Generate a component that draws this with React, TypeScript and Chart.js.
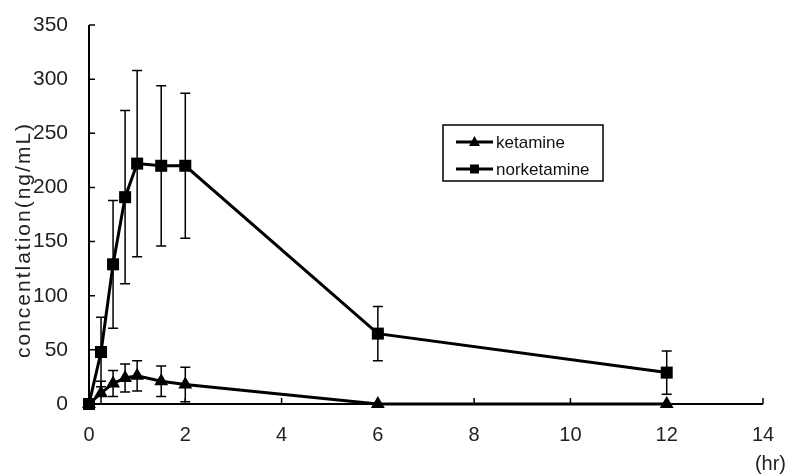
import React, { useEffect, useRef } from 'react';
import { Chart, registerables } from 'chart.js';

Chart.register(...registerables);

const times = [0, 0.25, 0.5, 0.75, 1, 1.5, 2, 6, 12];
const ketamine = [0, 10, 19, 24, 26, 21, 18, 0, 0];
const ketamineSD = [0, 11, 12, 13, 14, 14, 16, 0, 0];
const norketamine = [0, 48, 129, 191, 222, 220, 220, 65, 29];
const norketamineSD = [0, 32, 59, 80, 86, 74, 67, 25, 20];
const seriesNames = ['ketamine', 'norketamine'];
const xTicks = [0, 2, 4, 6, 8, 10, 12, 14];
const yTicks = [0, 50, 100, 150, 200, 250, 300, 350];
const yTitle = 'concentlation(ng/mL)';
const xTitle = '(hr)';

const FONT = '"Liberation Sans", Arial, sans-serif';

export default function App() {
  const ref = useRef<HTMLCanvasElement>(null);
  useEffect(() => {
    document.body.style.margin = '0';
    const canvas = ref.current!;
    const sds = [ketamineSD, norketamineSD];

    const plugin = {
      id: 'custom',
      beforeDatasetsDraw(chart: any) {
        const ctx = chart.ctx;
        const xs = chart.scales.x;
        const ys = chart.scales.y;
        const a = chart.chartArea;
        ctx.save();
        ctx.strokeStyle = '#000';
        // axes
        ctx.lineWidth = 2;
        ctx.beginPath();
        ctx.moveTo(a.left, a.top);
        ctx.lineTo(a.left, a.bottom);
        ctx.lineTo(a.right, a.bottom);
        ctx.stroke();
        ctx.lineWidth = 1.5;
        ctx.beginPath();
        xTicks.forEach((t) => {
          const px = xs.getPixelForValue(t);
          ctx.moveTo(px, a.bottom);
          ctx.lineTo(px, a.bottom - 6);
        });
        yTicks.forEach((t) => {
          const py = ys.getPixelForValue(t);
          ctx.moveTo(a.left, py);
          ctx.lineTo(a.left + 6, py);
        });
        ctx.stroke();
        // error bars
        ctx.lineWidth = 1.5;
        chart.data.datasets.forEach((ds: any, i: number) => {
          const sd = sds[i];
          ds.data.forEach((p: any, j: number) => {
            if (!sd[j]) return;
            const px = xs.getPixelForValue(p.x);
            const top = ys.getPixelForValue(p.y + sd[j]);
            const bot = ys.getPixelForValue(Math.max(0, p.y - sd[j]));
            ctx.beginPath();
            ctx.moveTo(px, top);
            ctx.lineTo(px, bot);
            ctx.moveTo(px - 5, top);
            ctx.lineTo(px + 5, top);
            ctx.moveTo(px - 5, bot);
            ctx.lineTo(px + 5, bot);
            ctx.stroke();
          });
        });
        ctx.restore();
      },
      afterDraw(chart: any) {
        const ctx = chart.ctx;
        ctx.save();
        // legend
        const bx = 443, by = 125, bw = 160, bh = 56;
        ctx.fillStyle = '#fff';
        ctx.fillRect(bx, by, bw, bh);
        ctx.strokeStyle = '#000';
        ctx.lineWidth = 1.5;
        ctx.strokeRect(bx, by, bw, bh);
        [142, 169].forEach((y, i) => {
          ctx.lineWidth = 3;
          ctx.beginPath();
          ctx.moveTo(456, y);
          ctx.lineTo(493, y);
          ctx.stroke();
          ctx.fillStyle = '#000';
          const cx = 474.5;
          ctx.beginPath();
          if (i === 0) {
            ctx.moveTo(cx, y - 6);
            ctx.lineTo(cx + 5.5, y + 4);
            ctx.lineTo(cx - 5.5, y + 4);
            ctx.closePath();
          } else {
            ctx.rect(cx - 4.5, y - 4.5, 9, 9);
          }
          ctx.fill();
          ctx.font = `17px ${FONT}`;
          ctx.textBaseline = 'middle';
          ctx.textAlign = 'left';
          ctx.fillStyle = '#111';
          ctx.fillText(seriesNames[i], 496, y + 1);
        });
        // x title
        ctx.font = `20px ${FONT}`;
        ctx.fillStyle = '#222';
        ctx.textAlign = 'right';
        ctx.textBaseline = 'middle';
        ctx.fillText(xTitle, 786, 464);
        // y title
        ctx.translate(24, 240);
        ctx.rotate(-Math.PI / 2);
        ctx.font = `21px ${FONT}`;
        (ctx as any).letterSpacing = '2px';
        ctx.textAlign = 'center';
        ctx.fillText(yTitle, 0, 0);
        ctx.restore();
      },
    };

    const chart = new Chart(canvas, {
      type: 'line',
      data: {
        datasets: [
          {
            label: seriesNames[0],
            data: times.map((t, i) => ({ x: t, y: ketamine[i] })),
            borderColor: '#000',
            backgroundColor: '#000',
            borderWidth: 3,
            pointStyle: 'triangle',
            pointRadius: 8,
            pointBorderWidth: 0,
            clip: false,
          },
          {
            label: seriesNames[1],
            data: times.map((t, i) => ({ x: t, y: norketamine[i] })),
            borderColor: '#000',
            backgroundColor: '#000',
            borderWidth: 3,
            pointStyle: 'rect',
            pointRadius: 8.5,
            pointBorderWidth: 0,
            clip: false,
          },
        ],
      },
      options: {
        responsive: false,
        animation: false,
        devicePixelRatio: 1,
        layout: { padding: { top: 25, right: 24, left: 0, bottom: 0 } },
        plugins: { legend: { display: false }, tooltip: { enabled: false } },
        scales: {
          x: {
            type: 'linear',
            min: 0,
            max: 14,
            afterBuildTicks: (s: any) => { s.ticks = xTicks.map((v) => ({ value: v })); },
            ticks: { font: { size: 20, family: FONT }, color: '#222', padding: 19, maxRotation: 0 },
            grid: { display: false, drawTicks: false },
            border: { display: false },
            afterFit: (s: any) => { s.height = 72; s.paddingLeft = 0; s.paddingRight = 0; },
          },
          y: {
            type: 'linear',
            min: 0,
            max: 350,
            afterBuildTicks: (s: any) => { s.ticks = yTicks.map((v) => ({ value: v })); },
            ticks: { font: { size: 21, family: FONT }, color: '#222', padding: 21 },
            grid: { display: false, drawTicks: false },
            border: { display: false },
            afterFit: (s: any) => { s.width = 89; s.paddingTop = 0; s.paddingBottom = 0; },
          },
        },
      },
      plugins: [plugin],
    } as any);
    return () => chart.destroy();
  }, []);
  return (
    <div style={{ width: 787, height: 476 }}>
      <canvas ref={ref} width={787} height={476} style={{ display: 'block' }} />
    </div>
  );
}
